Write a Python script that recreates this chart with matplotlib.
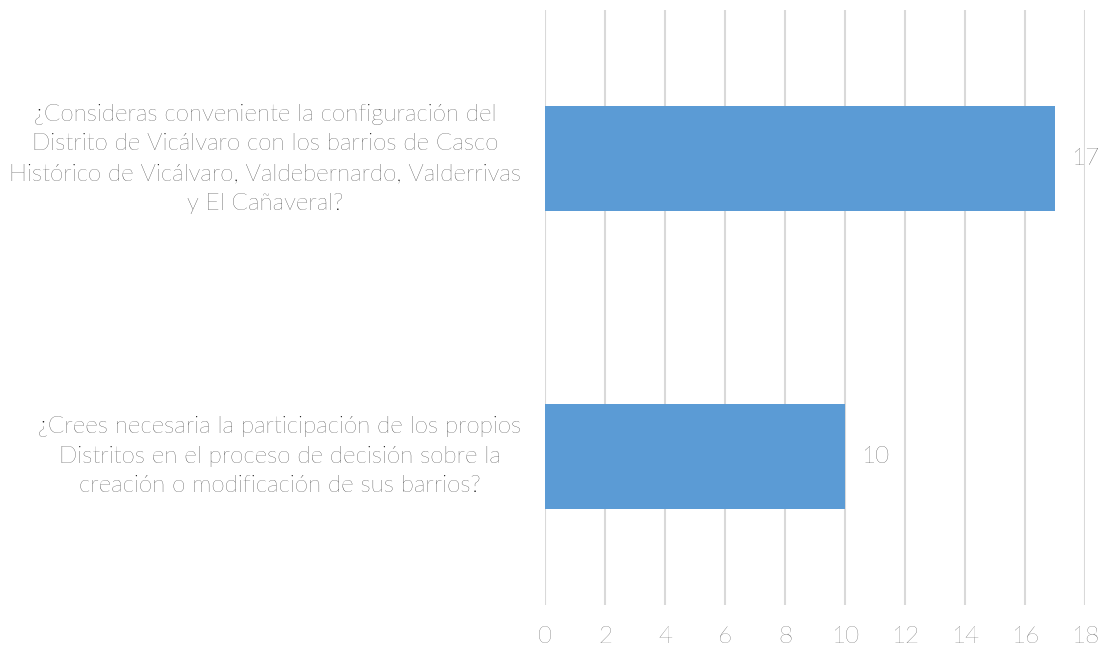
import matplotlib.pyplot as plt
import numpy as np

plt.rcParams['font.family'] = ['Lato', 'DejaVu Sans']

preguntas = [
    '¿Crees necesaria la participación de los propios\nDistritos en el proceso de decisión sobre la\ncreación o modificación de sus barrios?',
    '¿Consideras conveniente la configuración del\nDistrito de Vicálvaro con los barrios de Casco\nHistórico de Vicálvaro, Valdebernardo, Valderrivas\ny El Cañaveral?',
]
respuestas = [10, 17]
xticks = list(range(0, 19, 2))


def main():
    fig = plt.figure(figsize=(11.03, 6.48), dpi=100)
    ax = fig.add_axes([545 / 1103, 1 - 605 / 648, 540 / 1103, 595 / 648])

    y = np.arange(len(preguntas))
    bars = ax.barh(y, respuestas, height=0.354, color='#5B9BD5', zorder=3)

    for b, v in zip(bars, respuestas):
        ax.text(b.get_width() + 0.53, b.get_y() + b.get_height() / 2, str(v),
                va='center', ha='left', fontsize=17.5, color='#1A1A1A',
                fontweight='light')

    ax.set_xlim(0, 18)
    ax.set_ylim(-0.5, 1.5)
    ax.set_xticks(xticks)
    ax.set_xticklabels([str(t) for t in xticks], fontsize=17.5, color='#404040',
                       fontweight='light')
    ax.set_yticks(y)
    ax.set_yticklabels(preguntas, fontsize=17.4, color='#0D0D0D', fontweight='light')
    for lab in ax.get_yticklabels():
        lab.set_multialignment('center')
        lab.set_horizontalalignment('right')
        lab.set_verticalalignment('center')
        lab.set_linespacing(1.5)

    ax.tick_params(axis='both', length=0)
    ax.tick_params(axis='x', pad=15)
    ax.tick_params(axis='y', pad=17)
    ax.grid(axis='x', color='#D9D9D9', linewidth=1.5, zorder=0)
    for s in ax.spines.values():
        s.set_visible(False)

    fig.savefig('out.png', dpi=100)


if __name__ == '__main__':
    main()
